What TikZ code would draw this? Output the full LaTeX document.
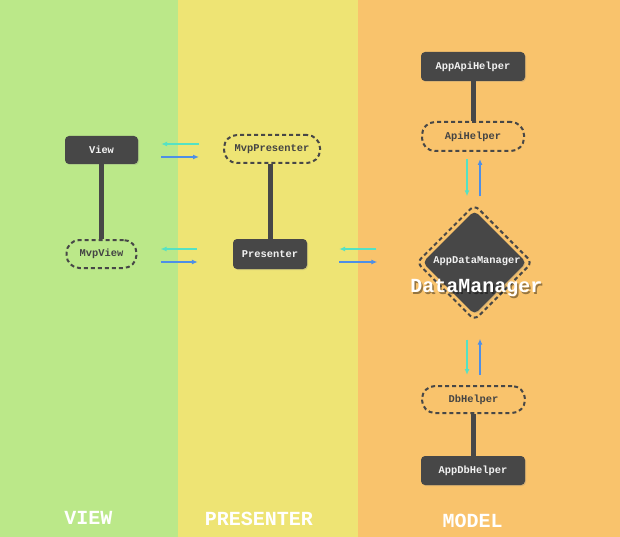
\documentclass[tikz,border=0pt]{standalone}
\usepackage{fontspec}
\newfontfamily\codefont{Liberation Mono}
\usetikzlibrary{shapes.geometric,arrows.meta,shadows}

\definecolor{viewbg}{HTML}{BBE889}
\definecolor{presbg}{HTML}{EEE474}
\definecolor{modelbg}{HTML}{F9C36C}
\definecolor{boxgray}{HTML}{474747}
\definecolor{boxtext}{HTML}{F2F2F2}
\definecolor{labelgray}{HTML}{444444}
\definecolor{tealarrow}{HTML}{55E2C4}
\definecolor{bluearrow}{HTML}{4E8FE6}

\newcommand{\codesmall}{\codefont\bfseries\fontsize{10.4}{12}\selectfont}
\newcommand{\codebig}{\codefont\bfseries\fontsize{20}{24}\selectfont}

\begin{document}
\begin{tikzpicture}[x=1pt, y=-1pt,
  darkbox/.style={rectangle, rounded corners=4pt, fill=boxgray, text=boxtext,
    font=\codesmall, inner sep=0pt,
    drop shadow={opacity=0.25, shadow xshift=1pt, shadow yshift=-1pt}},
  dashbox/.style={rectangle, rounded corners=13pt, draw=boxgray, line width=2pt,
    dash pattern=on 4pt off 3pt, text=labelgray, font=\codesmall, inner sep=0pt},
  link/.style={draw=boxgray, line width=5pt},
  toleft/.style={-{Latex[length=6pt,width=5pt]}, line width=1.5pt, draw=tealarrow},
  toright/.style={-{Latex[length=6pt,width=5pt]}, line width=1.5pt, draw=bluearrow},
  layer/.style={text=white, font=\codebig}
]
\useasboundingbox (0,0) rectangle (620,537);

% layer bands
\fill[viewbg]  (0,0)   rectangle (178,537);
\fill[presbg]  (178,0) rectangle (358,537);
\fill[modelbg] (358,0) rectangle (620,537);

% view layer
\node[darkbox, minimum width=73pt, minimum height=28pt] (View) at (101.5,150) {View};
\node[dashbox, minimum width=70pt, minimum height=28pt] (MvpView) at (101.5,254) {MvpView};

% presenter layer
\node[dashbox, minimum width=96pt, minimum height=28pt] (MvpPresenter) at (272,149) {MvpPresenter};
\node[darkbox, minimum width=74pt, minimum height=30pt] (Presenter) at (270,254) {Presenter};

% model layer
\node[darkbox, minimum width=104pt, minimum height=29pt] (AppApiHelper) at (473,66.5) {AppApiHelper};
\node[dashbox, minimum width=102pt, minimum height=29pt] (ApiHelper) at (473,136.5) {ApiHelper};
\node[diamond, draw=boxgray, line width=2pt, dash pattern=on 4pt off 3pt,
  rounded corners=6pt, inner sep=0pt, minimum width=116pt, minimum height=116pt] (DMframe) at (474.5,262.5) {};
\node[diamond, fill=boxgray, rounded corners=5pt, inner sep=0pt,
  minimum width=104pt, minimum height=104pt,
  drop shadow={opacity=0.25, shadow xshift=1pt, shadow yshift=-1pt}] (DataManager) at (474.5,262.5) {};
\node[text=boxtext, font=\codesmall] (AppDM) at (477,261) {AppDataManager};
\node[text=black, opacity=0.4, font=\codebig] (DMshadow) at (478,289.5) {DataManager};
\node[text=white, font=\codebig] (DMlabel) at (476.5,287.5) {DataManager};
\node[dashbox, minimum width=103pt, minimum height=27pt] (DbHelper) at (473.5,399.5) {DbHelper};
\node[darkbox, minimum width=104pt, minimum height=29pt] (AppDbHelper) at (473,470.5) {AppDbHelper};

% interface / implementation links
\draw[link] (View.south) -- (MvpView.north);
\draw[link] (Presenter.north) -- (Presenter.north |- MvpPresenter.south);
\draw[link] (AppApiHelper.south) -- (ApiHelper.north);
\draw[link] (DbHelper.south -| AppDbHelper.north) -- (AppDbHelper.north);

% view <-> presenter
\draw[toleft, shorten <=24pt, shorten >=23pt] (MvpPresenter.west |- 0,144) -- (View.east |- 0,144);
\draw[toright, shorten <=23pt, shorten >=24pt] (View.east |- 0,157) -- (MvpPresenter.west |- 0,157);
\draw[toleft, shorten <=36pt, shorten >=23pt] (Presenter.west |- 0,249) -- (MvpView.east |- 0,249);
\draw[toright, shorten <=23pt, shorten >=35pt] (MvpView.east |- 0,262) -- (Presenter.west |- 0,262);

% presenter <-> data manager
\draw[toleft, shorten <=46pt, shorten >=32pt] (DataManager.west |- 0,249) -- (Presenter.east |- 0,249);
\draw[toright, shorten <=32pt, shorten >=45pt] (Presenter.east |- 0,262) -- (DataManager.west |- 0,262);

% data manager <-> helpers
\draw[toleft, shorten <=7pt, shorten >=14pt] (ApiHelper.south -| 467,0) -- (DataManager.north -| 467,0);
\draw[toright, shorten <=14pt, shorten >=7pt] (DataManager.north -| 480,0) -- (ApiHelper.south -| 480,0);
\draw[toleft, shorten <=25pt, shorten >=10pt] (DataManager.south -| 467,0) -- (DbHelper.north -| 467,0);
\draw[toright, shorten <=10pt, shorten >=24pt] (DbHelper.north -| 480,0) -- (DataManager.south -| 480,0);

% layer titles
\node[layer] (ViewTitle) at (88.5,517.5) {VIEW};
\node[layer] (PresenterTitle) at (259,519) {PRESENTER};
\node[layer] (ModelTitle) at (472.5,520.5) {MODEL};
\end{tikzpicture}
\end{document}
